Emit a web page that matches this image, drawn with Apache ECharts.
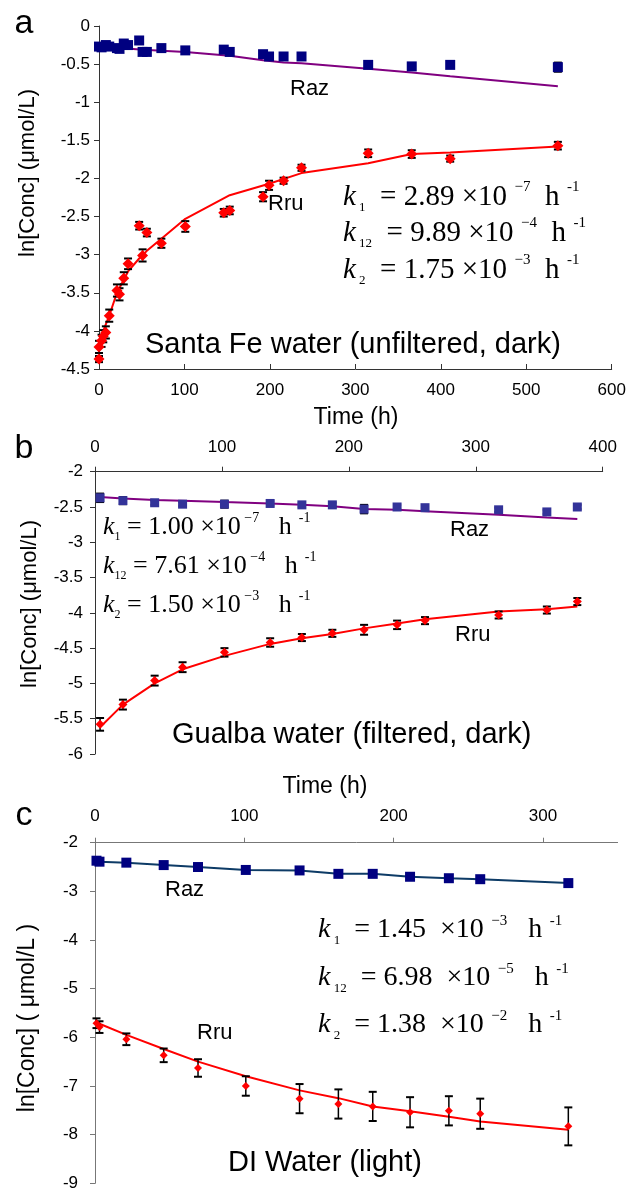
<!DOCTYPE html>
<html><head><meta charset="utf-8">
<script src="https://cdn.jsdelivr.net/npm/echarts@6/dist/echarts.min.js"></script>
<style>html,body{margin:0;padding:0;background:#fff}#c{width:628px;height:1190px}</style>
</head><body><div id="c"></div>
<script>
// ---------- Panel a : Santa Fe water ----------
const aRazT   = [0, 3, 8, 12, 21, 24, 29, 34, 47, 51, 56, 73, 101, 146, 153, 192, 199, 216, 237, 315, 366, 411, 537];
const aRazY   = [-0.27, -0.28, -0.25, -0.27, -0.29, -0.30, -0.23, -0.25, -0.19, -0.34, -0.34, -0.29, -0.32, -0.31, -0.34, -0.37, -0.40, -0.40, -0.40, -0.51, -0.53, -0.51, -0.54];
const aRazErr = [0.02, 0.02, 0.02, 0.02, 0.02, 0.02, 0.02, 0.02, 0.02, 0.02, 0.02, 0.02, 0.02, 0.02, 0.02, 0.02, 0.02, 0.02, 0.02, 0.02, 0.02, 0.02, 0.06];
const aRazFitT = [0, 52, 101, 153, 192, 216, 237, 315, 366, 411, 537];
const aRazFitY = [-0.27, -0.31, -0.34, -0.39, -0.45, -0.48, -0.49, -0.56, -0.61, -0.66, -0.79];
const aRruT   = [0, 0, 3, 5, 8, 12, 21, 24, 29, 34, 47, 51, 56, 73, 101, 146, 153, 192, 199, 216, 237, 315, 366, 411, 537];
const aRruY   = [-4.37, -4.21, -4.13, -4.07, -4.02, -3.80, -3.47, -3.52, -3.31, -3.12, -2.62, -3.01, -2.71, -2.85, -2.63, -2.45, -2.42, -2.24, -2.09, -2.03, -1.86, -1.67, -1.68, -1.74, -1.57];
const aRruErr = [0.04, 0.08, 0.08, 0.08, 0.08, 0.08, 0.08, 0.08, 0.08, 0.07, 0.05, 0.08, 0.05, 0.06, 0.07, 0.05, 0.05, 0.06, 0.06, 0.04, 0.04, 0.05, 0.05, 0.04, 0.05];
const aRruFitT = [0, 5, 12, 21, 29, 34, 47, 56, 73, 101, 153, 199, 237, 315, 366, 411, 537];
const aRruFitY = [-4.22, -4.00, -3.80, -3.50, -3.33, -3.22, -3.05, -2.95, -2.79, -2.53, -2.22, -2.07, -1.93, -1.80, -1.68, -1.66, -1.58];

// ---------- Panel b : Gualba water ----------
const bT      = [4, 22, 47, 69, 102, 138, 163, 187, 212, 238, 260, 318, 356, 380];
const bRazY   = [-2.37, -2.41, -2.44, -2.46, -2.46, -2.45, -2.47, -2.47, -2.53, -2.50, -2.51, -2.54, -2.57, -2.50];
const bRazErr = [0.06, 0.05, 0.03, 0.03, 0.05, 0.03, 0.03, 0.03, 0.06, 0.03, 0.03, 0.03, 0.03, 0.03];
const bRazFit = [-2.36, -2.38, -2.40, -2.41, -2.43, -2.45, -2.47, -2.49, -2.53, -2.54, -2.56, -2.61, -2.65, -2.67];
const bRruY   = [-5.58, -5.30, -4.96, -4.77, -4.56, -4.42, -4.35, -4.29, -4.24, -4.17, -4.11, -4.03, -3.96, -3.84];
const bRruErr = [0.09, 0.07, 0.07, 0.07, 0.06, 0.06, 0.05, 0.05, 0.07, 0.06, 0.05, 0.05, 0.05, 0.05];
const bRruFit = [-5.62, -5.30, -5.00, -4.80, -4.61, -4.44, -4.36, -4.30, -4.22, -4.15, -4.09, -3.98, -3.95, -3.91];

// ---------- Panel c : DI water ----------
const cT      = [1, 3, 21, 46, 69, 101, 137, 163, 186, 211, 237, 258, 317];
const cRazY   = [-2.37, -2.39, -2.41, -2.46, -2.50, -2.56, -2.57, -2.64, -2.64, -2.70, -2.73, -2.75, -2.83];
const cRruY   = [-5.71, -5.79, -6.04, -6.37, -6.63, -7.00, -7.26, -7.37, -7.42, -7.54, -7.51, -7.57, -7.83];
const cRruErr = [0.10, 0.12, 0.12, 0.14, 0.18, 0.20, 0.30, 0.30, 0.30, 0.31, 0.30, 0.31, 0.39];
const cRruFit = [-5.70, -5.72, -5.95, -6.24, -6.50, -6.80, -7.09, -7.25, -7.42, -7.52, -7.63, -7.73, -7.90];

// ---------- tick labels ----------
const aXTicks = [0, 100, 200, 300, 400, 500, 600];
const bXTicks = [0, 100, 200, 300, 400];
const cXTicks = [0, 100, 200, 300];

// ---------- texts ----------
const panelLetters = ['a', 'b', 'c'];
const yName = 'ln[Conc] (μmol/L)';
const yNameC = 'ln[Conc] ( μmol/L )';
const xName = 'Time (h)';
const titles = ['Santa Fe water (unfiltered, dark)', 'Gualba water (filtered, dark)', 'DI Water (light)'];
const kA = [['1', '2.89', '−7'], ['12', '9.89', '−4'], ['2', '1.75', '−3']];
const kB = [['1', '1.00', '−7'], ['12', '7.61', '−4'], ['2', '1.50', '−3']];
const kC = [['1', '1.45', '−3'], ['12', '6.98', '−5'], ['2', '1.38', '−2']];

const zip = (xs, ys) => xs.map((x, i) => [x, ys[i]]);
const zipErr = (xs, ys, es) => xs.map((x, i) => [x, ys[i] - es[i], ys[i] + es[i]]);

const SANS = 'Liberation Sans';
const SERIF = 'Liberation Serif';

function errRender(params, api) {
  const x = api.value(0), lo = api.value(1), hi = api.value(2);
  const a = api.coord([x, lo]), b = api.coord([x, hi]);
  const w = 4;
  return { type: 'group', children: [
    { type: 'line', shape: { x1: a[0], y1: a[1], x2: b[0], y2: b[1] }, style: { stroke: '#000', lineWidth: 1.5 } },
    { type: 'line', shape: { x1: a[0] - w, y1: a[1], x2: a[0] + w, y2: a[1] }, style: { stroke: '#000', lineWidth: 2 } },
    { type: 'line', shape: { x1: b[0] - w, y1: b[1], x2: b[0] + w, y2: b[1] }, style: { stroke: '#000', lineWidth: 2 } }
  ]};
}

function errSeries(idx, data) {
  return { type: 'custom', xAxisIndex: idx, yAxisIndex: idx, renderItem: errRender, data: data,
    encode: { x: 0, y: [1, 2] }, z: 3, silent: true };
}
function fitLine(idx, data, color, w) {
  return { type: 'line', xAxisIndex: idx, yAxisIndex: idx, data: data, showSymbol: false, symbol: 'none',
    lineStyle: { color: color, width: w || 2 }, z: 2, silent: true };
}
function scatter(idx, data, sym, size, color) {
  return { type: 'scatter', xAxisIndex: idx, yAxisIndex: idx, data: data, symbol: sym, symbolSize: size,
    itemStyle: { color: color, opacity: 1 }, z: 4, silent: true };
}

const axLbl = { fontFamily: SANS, fontSize: 17, color: '#000' };

function xAxis(idx, max, pos, ticks, inside, lineColor, margin) {
  return { type: 'value', gridIndex: idx, min: 0, max: max, interval: 100, position: pos,
    axisLine: { show: true, onZero: false, lineStyle: { color: lineColor, width: 1 } },
    axisTick: { show: true, inside: inside, length: 5, lineStyle: { color: lineColor }, customValues: ticks },
    axisLabel: Object.assign({ margin: margin, customValues: ticks }, axLbl),
    splitLine: { show: false } };
}
function yAxis(idx, min, max, interval, lineColor, margin) {
  return { type: 'value', gridIndex: idx, min: min, max: max, interval: interval,
    axisLine: { show: true, onZero: false, lineStyle: { color: lineColor, width: 1 } },
    axisTick: { show: true, inside: false, length: 5, lineStyle: { color: lineColor } },
    axisLabel: Object.assign({ margin: margin }, axLbl),
    splitLine: { show: false } };
}

function kRich(size) {
  const sub = Math.round(size * 0.45), sup = Math.round(size * 0.52);
  return {
    k: { fontFamily: SERIF, fontStyle: 'italic', fontSize: size, lineHeight: size * 1.2, verticalAlign: 'middle' },
    s: { fontFamily: SERIF, fontSize: sub, lineHeight: sub, verticalAlign: 'bottom' },
    t: { fontFamily: SERIF, fontSize: size, lineHeight: size * 1.2, verticalAlign: 'middle' },
    p: { fontFamily: SERIF, fontSize: sup, lineHeight: sup, verticalAlign: 'top' }
  };
}
function kTexts(list, x, ys, size, tpl) {
  return list.map((k, i) => ({
    type: 'text', x: x, y: ys[i],
    style: { text: tpl(k), rich: kRich(size), align: 'left', verticalAlign: 'middle', fill: '#000' }
  }));
}
const tplA = k => '{k|k}{s| ' + k[0] + '}{t|  = ' + k[1] + ' ×10}{p|  ' + k[2] + '}{t|  h}{p|  -1}';
const tplB = k => '{k|k}{s|' + k[0] + '}{t| = ' + k[1] + ' ×10}{p| ' + k[2] + '}{t|   h}{p|  -1}';
const tplC = k => '{k|k}{s| ' + k[0] + '}{t|  = ' + k[1] + '  ×10}{p|  ' + k[2] + '}{t|   h}{p|  -1}';

function txt(s, x, y, size, align, extra) {
  return Object.assign({ type: 'text', x: x, y: y,
    style: { text: s, fontFamily: SANS, fontSize: size, fill: '#000', align: align || 'left', verticalAlign: 'middle' } }, extra || {});
}

const graphics = [
  txt(panelLetters[0], 24, 24, 34, 'center'),
  txt(panelLetters[1], 24, 449, 34, 'center'),
  txt(panelLetters[2], 24, 816, 34, 'center'),
  txt(yName, 28, 173, 22, 'center', { rotation: Math.PI / 2 }),
  txt(yName, 30, 604, 22, 'center', { rotation: Math.PI / 2 }),
  txt(yNameC, 28, 1018, 23, 'center', { rotation: Math.PI / 2 }),
  txt(xName, 356, 418, 23, 'center'),
  txt(xName, 325, 787, 23, 'center'),
  txt(titles[0], 145, 345, 29),
  txt(titles[1], 172, 735, 29),
  txt(titles[2], 228, 1163, 29),
  txt('Raz', 290, 89, 22), txt('Rru', 268, 204, 22),
  txt('Raz', 450, 530, 22), txt('Rru', 455, 635, 22),
  txt('Raz', 165, 890, 22), txt('Rru', 197, 1033, 22)
].concat(kTexts(kA, 343, [197, 233, 270], 29, tplA))
 .concat(kTexts(kB, 103, [527, 566, 605], 26, tplB))
 .concat(kTexts(kC, 318, [930, 978, 1025], 28, tplC));

const option = {
  animation: false,
  backgroundColor: '#fff',
  grid: [
    { left: 99, top: 26, width: 512.7, height: 343, containLabel: false, outerBoundsMode: 'none' },
    { left: 95, top: 471.7, width: 507.7, height: 282.3, containLabel: false, outerBoundsMode: 'none' },
    { left: 95, top: 842.7, width: 522.6, height: 340.6, containLabel: false, outerBoundsMode: 'none' }
  ],
  xAxis: [
    xAxis(0, 600, 'bottom', aXTicks, true, '#333', 13),
    xAxis(1, 400, 'top', bXTicks, false, '#333', 16),
    xAxis(2, 350, 'top', cXTicks, false, '#777', 18)
  ],
  yAxis: [
    yAxis(0, -4.5, 0, 0.5, '#333', 9),
    yAxis(1, -6, -2, 0.5, '#333', 12),
    yAxis(2, -9, -2, 1, '#777', 17)
  ],
  series: [
    fitLine(0, zip(aRazFitT, aRazFitY), '#800080'),
    errSeries(0, zipErr(aRazT, aRazY, aRazErr)),
    scatter(0, zip(aRazT, aRazY), 'rect', 10, '#000080'),
    fitLine(0, zip(aRruFitT, aRruFitY), '#ff0000'),
    errSeries(0, zipErr(aRruT, aRruY, aRruErr)),
    scatter(0, zip(aRruT, aRruY), 'diamond', 11, '#ff0000'),

    fitLine(1, zip(bT, bRazFit), '#800080'),
    errSeries(1, zipErr(bT, bRazY, bRazErr)),
    scatter(1, zip(bT, bRazY), 'rect', 9, '#333399'),
    fitLine(1, zip(bT, bRruFit), '#ff0000'),
    errSeries(1, zipErr(bT, bRruY, bRruErr)),
    scatter(1, zip(bT, bRruY), 'diamond', 9, '#ff0000'),

    { type: 'line', xAxisIndex: 2, yAxisIndex: 2, data: zip(cT, cRazY), symbol: 'rect', symbolSize: 10,
      itemStyle: { color: '#000080', opacity: 1 }, lineStyle: { color: '#0d3b66', width: 2 }, z: 4, silent: true },
    fitLine(2, zip(cT, cRruFit), '#ff0000'),
    errSeries(2, zipErr(cT, cRruY, cRruErr)),
    scatter(2, zip(cT, cRruY), 'diamond', 8, '#ff0000')
  ],
  graphic: graphics
};

const chart = echarts.init(document.getElementById('c'), null, { renderer: 'canvas' });
chart.setOption(option);
</script>
</body></html>
